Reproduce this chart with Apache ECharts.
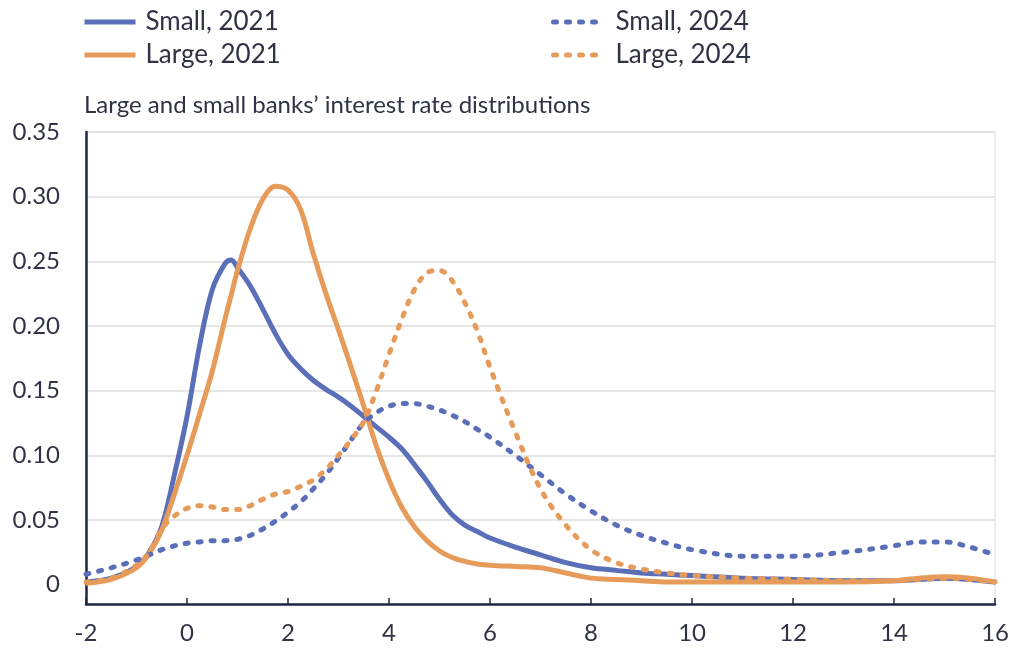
<!DOCTYPE html>
<html>
<head>
<meta charset="utf-8">
<title>Large and small banks' interest rate distributions</title>
<script src="https://cdn.jsdelivr.net/npm/echarts@6/dist/echarts.min.js"></script>
<style>
  html, body { margin: 0; padding: 0; background: #fff; }
  #chart { width: 1012px; height: 648px; }
</style>
</head>
<body>
<div id="chart"></div>
<script>
// interest rate (x) grid, shared by all four curves
var rates = [-2, -1.5, -1, -0.75, -0.5, -0.25, 0, 0.25, 0.5, 0.75, 0.875, 1, 1.25, 1.5, 1.75, 2, 2.25, 2.5, 2.75, 3, 3.25, 3.5, 3.75, 4, 4.25, 4.5, 4.75, 5, 5.25, 5.5, 5.75, 6, 6.5, 7, 7.5, 8, 8.5, 9, 9.5, 10, 11, 12, 13, 14, 14.5, 15, 15.5, 16];

// density values
var small2021 = [0.002, 0.005, 0.014, 0.025, 0.045, 0.085, 0.13, 0.185, 0.228, 0.248, 0.251, 0.245, 0.231, 0.213, 0.194, 0.178, 0.167, 0.158, 0.151, 0.145, 0.138, 0.13, 0.122, 0.114, 0.105, 0.093, 0.08, 0.066, 0.054, 0.046, 0.041, 0.036, 0.029, 0.023, 0.017, 0.013, 0.011, 0.009, 0.008, 0.007, 0.005, 0.004, 0.003, 0.003, 0.004, 0.005, 0.004, 0.002];
var large2021 = [0.001, 0.004, 0.013, 0.024, 0.042, 0.07, 0.1, 0.132, 0.165, 0.205, 0.224, 0.243, 0.275, 0.298, 0.308, 0.305, 0.29, 0.256, 0.225, 0.197, 0.168, 0.138, 0.107, 0.081, 0.06, 0.045, 0.034, 0.026, 0.021, 0.018, 0.016, 0.015, 0.014, 0.013, 0.009, 0.005, 0.004, 0.003, 0.002, 0.002, 0.002, 0.002, 0.002, 0.003, 0.005, 0.006, 0.005, 0.002];
var small2024 = [0.008, 0.013, 0.019, 0.023, 0.027, 0.03, 0.032, 0.033, 0.034, 0.034, 0.0345, 0.035, 0.038, 0.043, 0.049, 0.056, 0.064, 0.074, 0.085, 0.098, 0.112, 0.125, 0.133, 0.138, 0.14, 0.14, 0.138, 0.135, 0.131, 0.126, 0.12, 0.114, 0.1, 0.085, 0.07, 0.057, 0.046, 0.038, 0.032, 0.027, 0.022, 0.022, 0.025, 0.03, 0.033, 0.033, 0.029, 0.023];
var large2024 = [0.002, 0.005, 0.015, 0.025, 0.043, 0.053, 0.059, 0.061, 0.06, 0.058, 0.058, 0.058, 0.061, 0.066, 0.07, 0.072, 0.076, 0.081, 0.089, 0.1, 0.112, 0.126, 0.15, 0.178, 0.205, 0.228, 0.241, 0.243, 0.235, 0.218, 0.196, 0.168, 0.118, 0.074, 0.046, 0.027, 0.017, 0.012, 0.009, 0.007, 0.005, 0.004, 0.003, 0.003, 0.004, 0.005, 0.004, 0.002];

var yLabelValues = [0, 0.05, 0.1, 0.15, 0.2, 0.25, 0.3, 0.35];
var yGridValues = [0.05, 0.1, 0.15, 0.2, 0.25, 0.3, 0.35];

var blue = "#5a6fb8";
var orange = "#e69b5b";
var ink = "#2f3445";
var axisInk = "#1d2645";

function pairs(ys) {
  return rates.map(function(x, i) {
    return [x, ys[i]];
  });
}

function makeSeries(name, ys, color, dotted) {
  return {
    name: name,
    type: "line",
    data: pairs(ys),
    smooth: 0.35,
    showSymbol: false,
    symbol: "none",
    lineStyle: {
      color: color,
      width: 5,
      type: dotted ? [3, 10] : "solid",
      cap: dotted ? "round" : "butt"
    },
    itemStyle: { color: color }
  };
}

var chart = echarts.init(document.getElementById("chart"));

var legendText = {
  fontFamily: "Lato",
  fontSize: 26,
  lineHeight: 30,
  color: ink,
  padding: [0, 0, 0, 5]
};

var option = {
  animation: false,
  backgroundColor: "#fff",
  title: {
    text: "Large and small banks\u2019 interest rate distributions",
    left: 79,
    top: 88,
    textStyle: {
      fontFamily: "Lato",
      fontSize: 24,
      fontWeight: "normal",
      color: ink
    }
  },
  legend: [
    {
      orient: "vertical",
      left: 82,
      top: 7,
      padding: 0,
      itemWidth: 51,
      itemHeight: 14,
      itemGap: 3,
      itemStyle: { opacity: 0 },
      lineStyle: { width: 5 },
      textStyle: legendText,
      data: ["Small, 2021", "Large, 2021"]
    },
    {
      orient: "vertical",
      left: 551,
      top: 7,
      padding: 0,
      itemWidth: 52,
      itemHeight: 14,
      itemGap: 3,
      itemStyle: { opacity: 0 },
      lineStyle: { width: 5, cap: "round" },
      textStyle: legendText,
      data: ["Small, 2024", "Large, 2024"]
    }
  ],
  grid: {
    left: 86,
    right: 14,
    top: 132,
    bottom: 44,
    show: true,
    borderColor: "#dddddd",
    borderWidth: 1
  },
  xAxis: {
    type: "value",
    min: -2,
    max: 16,
    interval: 2,
    axisLine: {
      show: true,
      onZero: false,
      lineStyle: { color: axisInk, width: 2.5 }
    },
    axisTick: {
      show: true,
      inside: true,
      length: 6,
      lineStyle: { color: axisInk, width: 1.5 }
    },
    splitLine: { show: false },
    axisLabel: {
      margin: 17,
      fontFamily: "Lato",
      fontSize: 24,
      color: ink
    }
  },
  yAxis: {
    type: "value",
    min: -0.015,
    max: 0.35,
    axisLine: {
      show: true,
      onZero: false,
      lineStyle: { color: axisInk, width: 2.5 }
    },
    axisTick: {
      show: false,
      customValues: yGridValues
    },
    splitLine: {
      show: true,
      lineStyle: { color: "#dedede", width: 1.5 }
    },
    axisLabel: {
      customValues: yLabelValues,
      margin: 26,
      fontFamily: "Lato",
      fontSize: 24,
      color: ink,
      formatter: function(v) {
        return v === 0 ? "0" : v.toFixed(2);
      }
    }
  },
  series: [
    makeSeries("Small, 2021", small2021, blue, false),
    makeSeries("Large, 2021", large2021, orange, false),
    makeSeries("Small, 2024", small2024, blue, true),
    makeSeries("Large, 2024", large2024, orange, true)
  ]
};

chart.setOption(option);
</script>
</body>
</html>
